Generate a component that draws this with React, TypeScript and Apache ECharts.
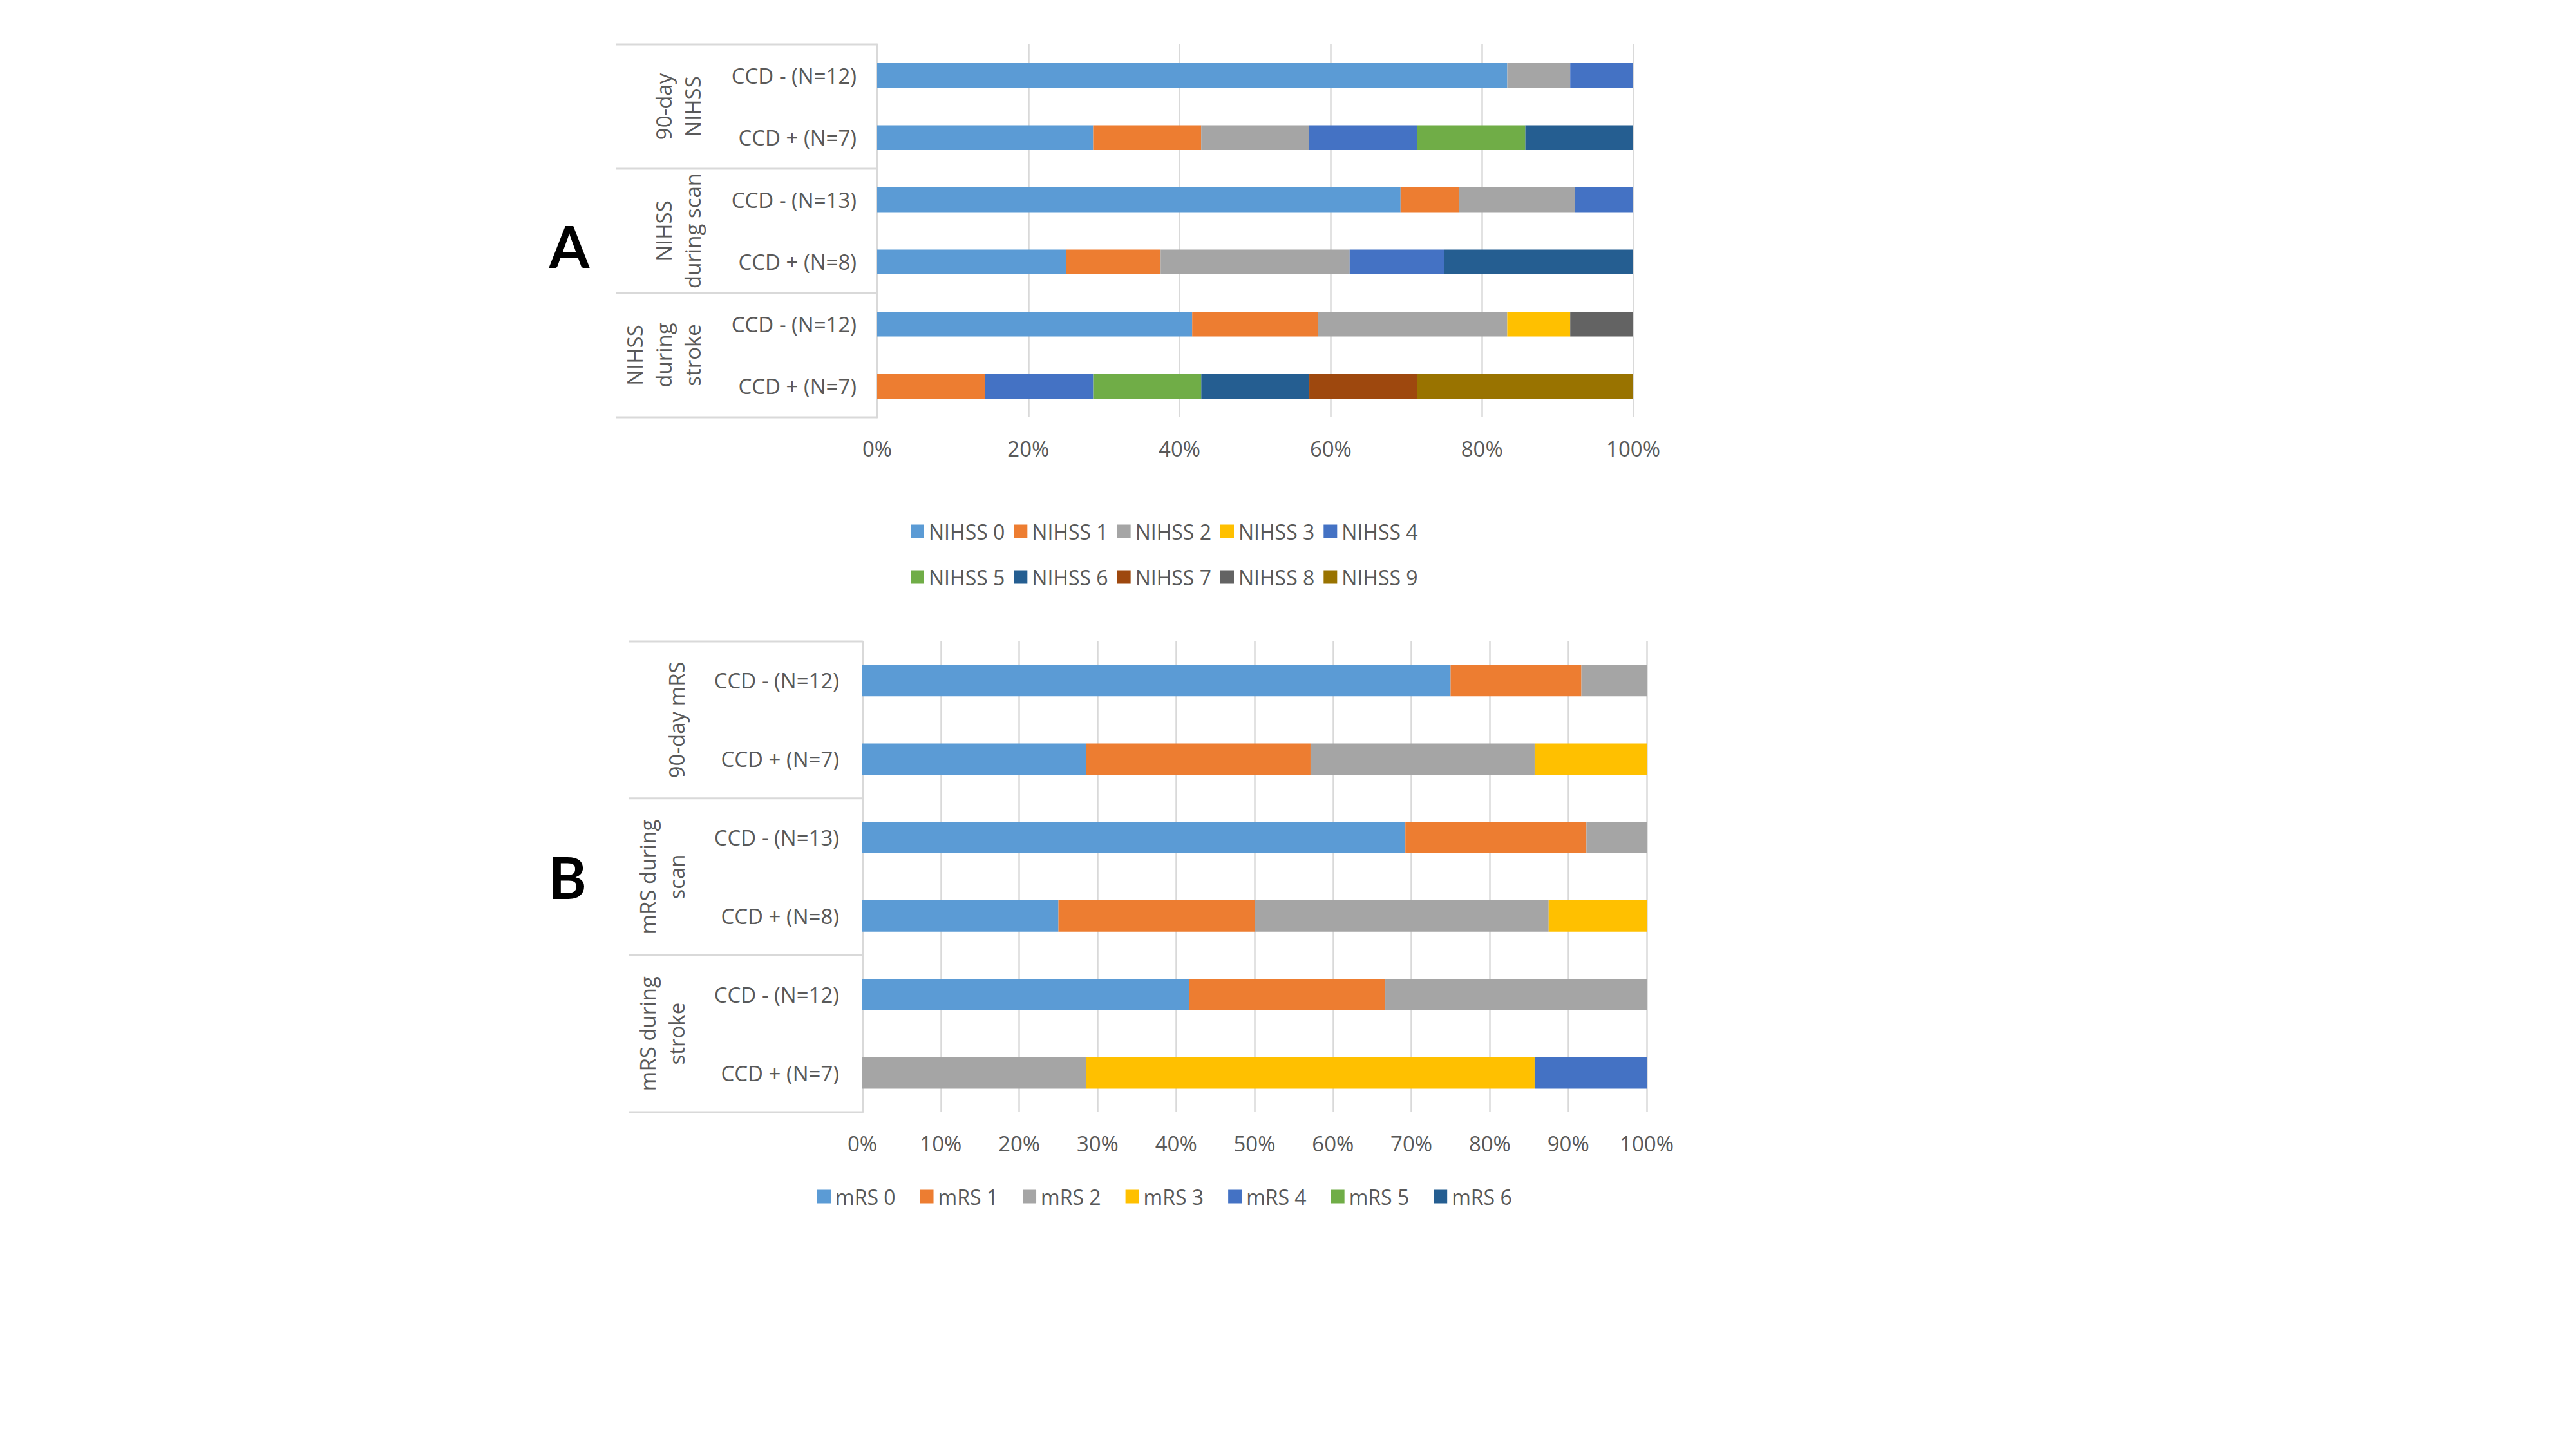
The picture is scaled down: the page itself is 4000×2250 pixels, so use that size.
import React, { useEffect, useRef } from "react";
import * as echarts from "echarts";

// ---------- data ----------
const rowLabels = ["CCD - (N=12)", "CCD + (N=7)", "CCD - (N=13)", "CCD + (N=8)", "CCD - (N=12)", "CCD + (N=7)"];
const groupLabelsA = ["90-day\nNIHSS", "NIHSS\nduring scan", "NIHSS\nduring\nstroke"];
const groupLabelsB = ["90-day mRS", "mRS during\nscan", "mRS during\nstroke"];

const nihssNames = ["NIHSS 0", "NIHSS 1", "NIHSS 2", "NIHSS 3", "NIHSS 4", "NIHSS 5", "NIHSS 6", "NIHSS 7", "NIHSS 8", "NIHSS 9"];
// percentages, rows top to bottom
const nihss0 = [83.34, 28.57, 69.23, 25.0, 41.67, 0];
const nihss1 = [0, 14.29, 7.69, 12.5, 16.67, 14.29];
const nihss2 = [8.33, 14.29, 15.39, 25.0, 25.0, 0];
const nihss3 = [0, 0, 0, 0, 8.33, 0];
const nihss4 = [8.33, 14.29, 7.69, 12.5, 0, 14.29];
const nihss5 = [0, 14.29, 0, 0, 0, 14.29];
const nihss6 = [0, 14.27, 0, 25.0, 0, 14.29];
const nihss7 = [0, 0, 0, 0, 0, 14.29];
const nihss8 = [0, 0, 0, 0, 8.33, 0];
const nihss9 = [0, 0, 0, 0, 0, 28.55];

const mrsNames = ["mRS 0", "mRS 1", "mRS 2", "mRS 3", "mRS 4", "mRS 5", "mRS 6"];
const mrs0 = [75.0, 28.57, 69.23, 25.0, 41.67, 0];
const mrs1 = [16.67, 28.57, 23.08, 25.0, 25.0, 0];
const mrs2 = [8.33, 28.57, 7.69, 37.5, 33.33, 28.57];
const mrs3 = [0, 14.29, 0, 12.5, 0, 57.14];
const mrs4 = [0, 0, 0, 0, 0, 14.29];
const mrs5 = [0, 0, 0, 0, 0, 0];
const mrs6 = [0, 0, 0, 0, 0, 0];

const ticksA = [0, 20, 40, 60, 80, 100];
const ticksB = [0, 10, 20, 30, 40, 50, 60, 70, 80, 90, 100];

const palette = ["#5B9BD5", "#ED7D31", "#A5A5A5", "#FFC000", "#4472C4", "#70AD47", "#255E91", "#9E480E", "#636363", "#997300"];

// ---------- layout ----------
const FONT = "'Open Sans', 'Noto Sans', sans-serif";
const TXT = "#595959";
const LINE = "#D9D9D9";
const gA = { left: 1362, top: 69, width: 1174, height: 579 };
const gB = { left: 1339, top: 996, width: 1218, height: 731 };

export default function App() {
  const ref = useRef<HTMLDivElement>(null);
  useEffect(() => {
    if (!ref.current) return;
    const chart = echarts.init(ref.current, undefined, { renderer: "svg" });
    const keys = rowLabels.map((l, i) => `${i}|${l}`);
    const nihssData = [nihss0, nihss1, nihss2, nihss3, nihss4, nihss5, nihss6, nihss7, nihss8, nihss9];
    const mrsData = [mrs0, mrs1, mrs2, mrs3, mrs4, mrs5, mrs6];

    const xAxisCommon = (ticks: number[], gridIndex: number) => ({
      type: "value",
      gridIndex,
      min: ticks[0],
      max: ticks[ticks.length - 1],
      interval: ticks[1] - ticks[0],
      axisLine: { show: false },
      axisTick: { show: false },
      splitLine: { show: true, lineStyle: { color: LINE, width: 2.5 } },
      axisLabel: { formatter: "{value}%", color: TXT, fontSize: 33, fontFamily: FONT, margin: 32 },
    });
    const yAxisCommon = (gridIndex: number, margin: number) => ({
      type: "category",
      gridIndex,
      inverse: true,
      data: keys,
      axisLine: { show: true, lineStyle: { color: LINE, width: 3 } },
      axisTick: { show: false },
      splitLine: { show: false },
      axisLabel: {
        formatter: (v: string) => v.split("|")[1],
        color: TXT,
        fontSize: 33,
        fontFamily: FONT,
        margin,
      },
    });

    const seriesA = nihssNames.map((name, i) => ({
      name,
      type: "bar",
      stack: "a",
      xAxisIndex: 0,
      yAxisIndex: 0,
      barWidth: "40%",
      itemStyle: { color: palette[i] },
      data: nihssData[i],
    }));
    const seriesB = mrsNames.map((name, i) => ({
      name,
      type: "bar",
      stack: "b",
      xAxisIndex: 1,
      yAxisIndex: 1,
      barWidth: "40%",
      itemStyle: { color: palette[i] },
      data: mrsData[i],
    }));

    const graphics: any[] = [];
    const tableLines = (g: typeof gA, x0: number) => {
      const band = g.height / 6;
      for (let k = 0; k <= 3; k++) {
        const y = g.top + k * 2 * band;
        graphics.push({
          type: "line",
          shape: { x1: x0, y1: y, x2: g.left, y2: y },
          style: { stroke: LINE, lineWidth: 3 },
        });
      }
    };
    const groupTexts = (g: typeof gA, labels: string[], anchorX: number) => {
      const band = g.height / 6;
      labels.forEach((t, i) => {
        graphics.push({
          type: "text",
          x: anchorX,
          y: g.top + (2 * i + 1) * band,
          rotation: Math.PI / 2,
          style: {
            text: t,
            fill: TXT,
            fontSize: 33,
            fontFamily: FONT,
            lineHeight: 45,
            align: "center",
            verticalAlign: "bottom",
          },
        });
      });
    };
    tableLines(gA, 957);
    tableLines(gB, 977);
    groupTexts(gA, groupLabelsA, 1098);
    groupTexts(gB, groupLabelsB, 1073);
    graphics.push({
      type: "text",
      x: 884,
      y: 381,
      style: { text: "A", fill: "#000", fontSize: 90, fontWeight: "bold", fontFamily: "Lato, 'Open Sans', sans-serif", align: "center", verticalAlign: "middle" },
    });
    graphics.push({
      type: "text",
      x: 881,
      y: 1361,
      style: { text: "B", fill: "#000", fontSize: 90, fontWeight: "bold", fontFamily: "Lato, 'Open Sans', sans-serif", align: "center", verticalAlign: "middle" },
    });

    const legendCommon = {
      orient: "horizontal",
      icon: "rect",
      itemWidth: 21,
      itemHeight: 21,
      selectedMode: false,
      textStyle: { color: TXT, fontSize: 32, fontFamily: FONT, padding: [0, 0, 0, 2] },
    };

    chart.setOption({
      animation: false,
      backgroundColor: "#FFFFFF",
      grid: [
        { ...gA, outerBoundsMode: "none", containLabel: false },
        { ...gB, outerBoundsMode: "none", containLabel: false },
      ],
      xAxis: [xAxisCommon(ticksA, 0), xAxisCommon(ticksB, 1)],
      yAxis: [yAxisCommon(0, 32), yAxisCommon(1, 36)],
      legend: [
        { ...legendCommon, left: 1409, top: 804, itemGap: 14, data: nihssNames.slice(0, 5) },
        { ...legendCommon, left: 1409, top: 875, itemGap: 14, data: nihssNames.slice(5) },
        { ...legendCommon, left: 1264, top: 1837, itemGap: 38, data: mrsNames },
      ],
      series: [...seriesA, ...seriesB],
      graphic: graphics,
    });
    return () => chart.dispose();
  }, []);
  return (
    <div
      ref={ref}
      style={{ position: "fixed", left: 0, top: 0, width: 4000, height: 2250, background: "#fff" }}
    />
  );
}
